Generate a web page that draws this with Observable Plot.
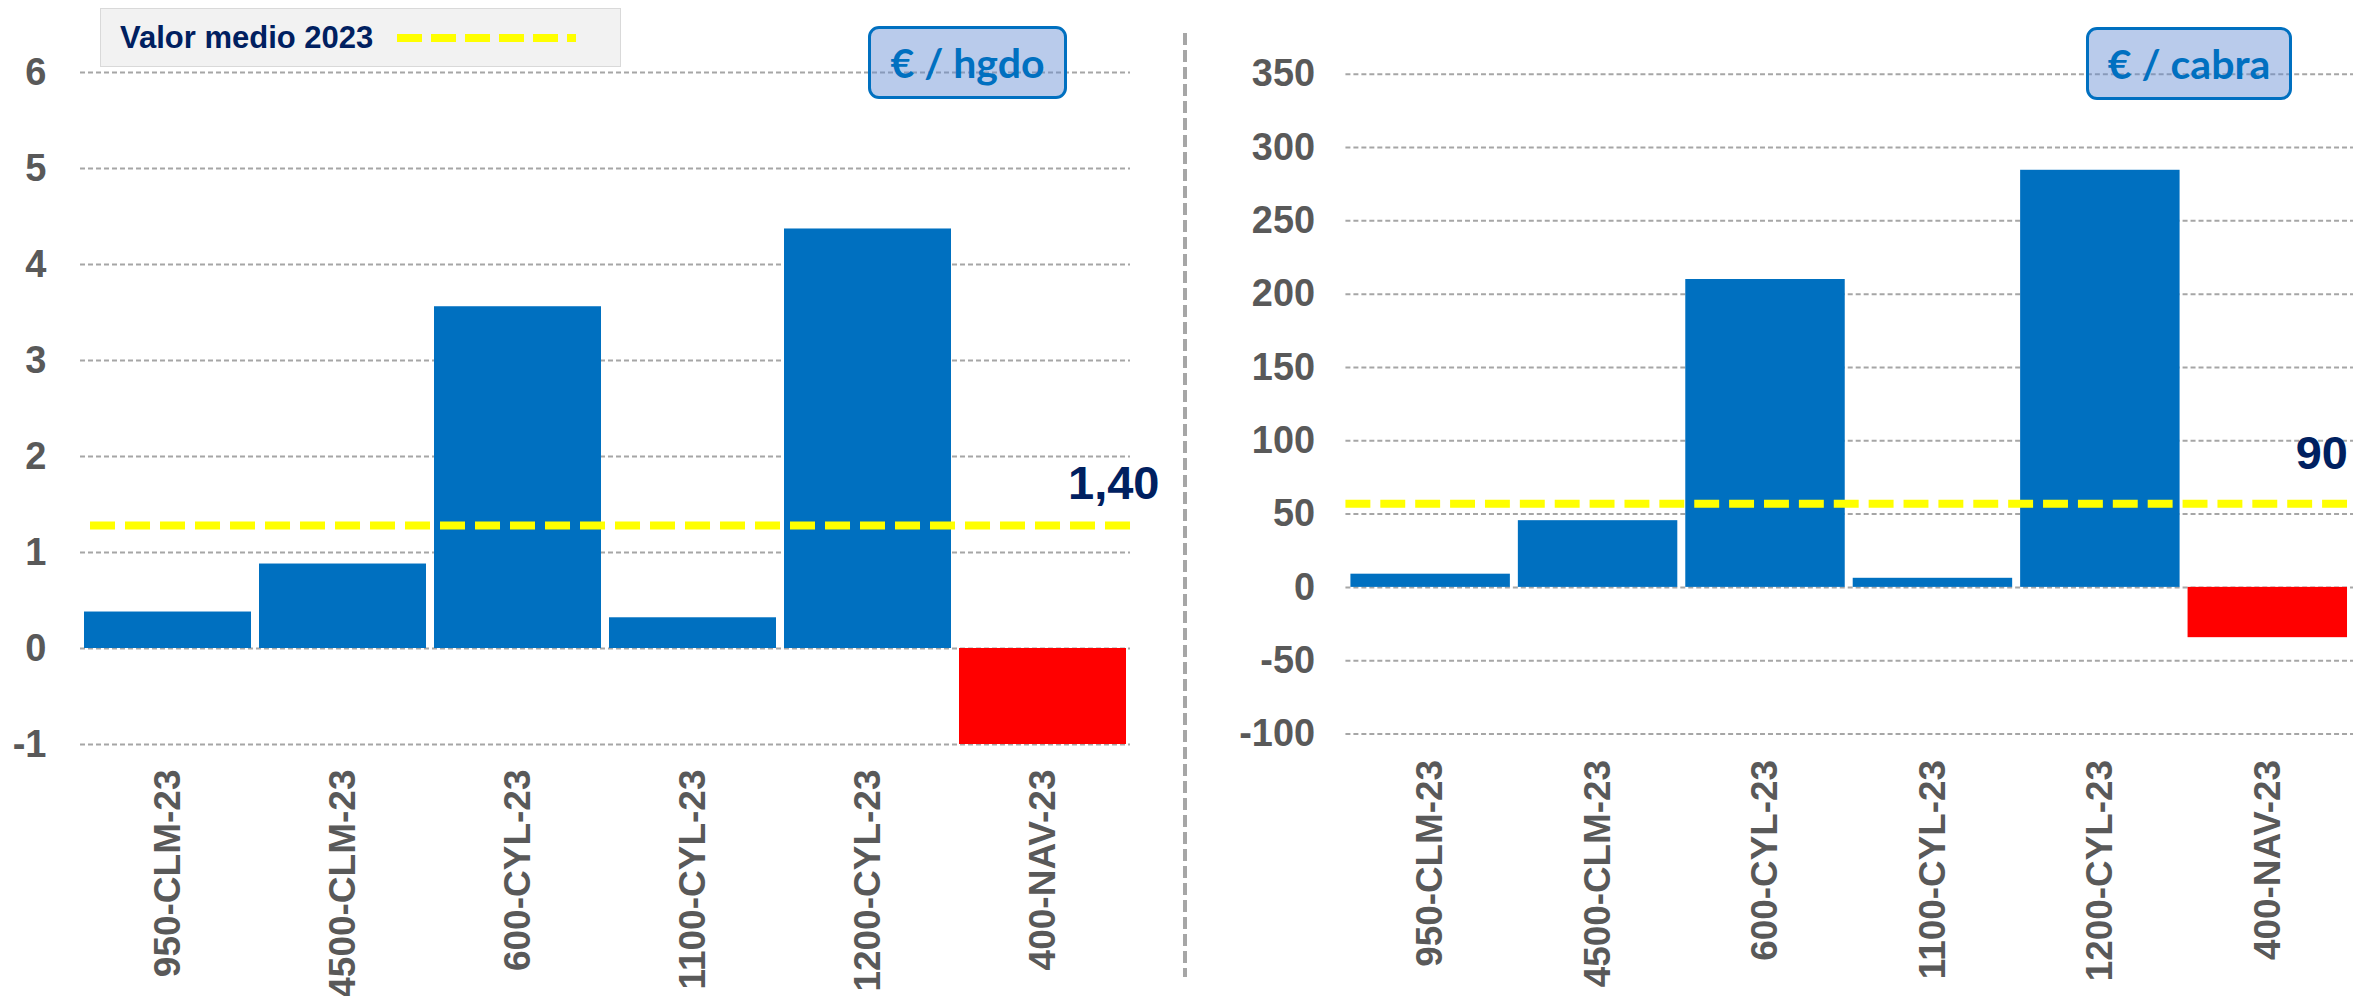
<!DOCTYPE html>
<html>
<head>
<meta charset="utf-8">
<script src="https://cdn.jsdelivr.net/npm/d3@7"></script>
<script src="https://cdn.jsdelivr.net/npm/@observablehq/plot@0.6"></script>
<style>
  html, body { margin: 0; padding: 0; background: #fff; }
  body { width: 2353px; height: 996px; overflow: hidden; position: relative; font-family: "Liberation Sans", Arial, sans-serif; }
  .abs { position: absolute; }
  .unit { position: absolute; box-sizing: border-box; border: 3px solid #0070c0; border-radius: 11px;
          background: rgba(100,140,210,0.45); color: #0070c0; font-family: Lato, "Open Sans", sans-serif;
          font-weight: bold; font-size: 41px; display: flex; align-items: center; justify-content: center; }
  .legend { position: absolute; left: 100px; top: 8px; width: 521px; height: 59px; box-sizing: border-box;
            background: #f2f2f2; border: 1.5px solid #d9d9d9; }
  .legend span { position: absolute; left: 19px; top: 9px; color: #002060; font-weight: bold; font-size: 31px; line-height: 40px; }
</style>
</head>
<body>
<div id="left" class="abs" style="left:0;top:0"></div>
<div id="right" class="abs" style="left:1180px;top:0"></div>
<div class="legend"><span>Valor medio 2023</span>
  <svg class="abs" style="left:294px;top:20px" width="185" height="20"><line x1="2" y1="9" x2="181" y2="9" stroke="#ffff00" stroke-width="8" stroke-dasharray="25,9"/></svg>
</div>
<div class="unit" style="left:868px;top:26px;width:199px;height:73px">€ / hgdo</div>
<div class="unit" style="left:2086px;top:27px;width:206px;height:73px">€ / cabra</div>
<svg class="abs" style="left:1178px;top:0" width="14" height="996"><line x1="7" y1="33" x2="7" y2="977" stroke="#a6a6a6" stroke-width="4" stroke-dasharray="12,5"/></svg>
<script>
// ---- data ----
const categories = ["950-CLM-23", "4500-CLM-23", "600-CYL-23", "1100-CYL-23", "1200-CYL-23", "400-NAV-23"];
const perLitre = [0.38, 0.88, 3.56, 0.32, 4.37, -1.0];      // € / hgdo
const perGoat = [9, 45.5, 210, 6.2, 284.5, -34.3];           // € / cabra
const leftTicks = [-1, 0, 1, 2, 3, 4, 5, 6];
const rightTicks = [-100, -50, 0, 50, 100, 150, 200, 250, 300, 350];
const leftMean = 1.28;
const rightMean = 57;
const leftMeanLabel = "1,40";
const rightMeanLabel = "90";

const BLUE = "#0070c0", RED = "#ff0000", GRID = "#a6a6a6", GREY = "#595959", NAVY = "#002060";

function panel(values, ticks, domain, mean, label, opts) {
  const rows = categories.map((c, i) => ({cat: c, v: values[i]}));
  return Plot.plot({
    width: opts.width, height: 996,
    marginLeft: opts.ml, marginRight: opts.mr, marginTop: opts.mt, marginBottom: opts.mb,
    style: {fontFamily: "'Liberation Sans', Arial, sans-serif", background: "transparent", overflow: "visible"},
    x: {domain: categories, paddingInner: 0.046, paddingOuter: 0.023},
    y: {domain},
    color: {type: "identity"},
    marks: [
      Plot.ruleY(ticks, {stroke: GRID, strokeWidth: 2, strokeDasharray: "5,3"}),
      Plot.barY(rows, {x: "cat", y: "v", fill: d => d.v < 0 ? RED : BLUE}),
      Plot.ruleY([mean], {stroke: "#ffff00", strokeWidth: 8, strokeDasharray: "25,10", insetLeft: opts.meanInset}),
      Plot.text([label], {x: () => categories[5], y: () => mean, text: d => d, textAnchor: "start",
        lineAnchor: "bottom", dx: opts.ldx, dy: opts.ldy, fontSize: 47, fontWeight: "bold", fill: NAVY}),
      Plot.axisY({ticks, label: null, tickSize: 0, tickPadding: opts.tp, tickFormat: d => String(d),
        fontSize: 38, fontWeight: "bold", fill: GREY}),
      Plot.axisX({label: null, tickRotate: -90, tickSize: 0, tickPadding: opts.xp, fontSize: 37, fontWeight: "bold", fill: GREY})
    ]
  });
}

document.getElementById("left").append(
  panel(perLitre, leftTicks, [-1, 6], leftMean, leftMeanLabel,
    {width: 1180, ml: 80, mr: 50, mt: 72, mb: 252, tp: 34, xp: 25, meanInset: 10, ldx: 25, ldy: -27}));
document.getElementById("right").append(
  panel(perGoat, rightTicks, [-100, 350], rightMean, rightMeanLabel,
    {width: 1177, ml: 166, mr: 0, mt: 74, mb: 260, tp: 31, xp: 26, meanInset: 0, ldx: 28, ldy: -35}));
</script>
</body>
</html>
